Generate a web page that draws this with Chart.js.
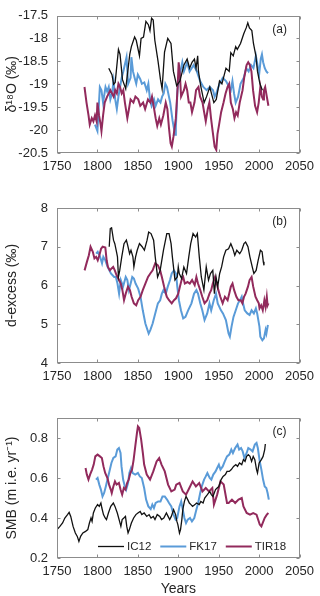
<!DOCTYPE html>
<html>
<head>
<meta charset="utf-8">
<script src="https://cdn.jsdelivr.net/npm/chart.js@4.4.0/dist/chart.umd.min.js"></script>
<style>
  html, body { margin: 0; padding: 0; background: #fff; }
  #wrap { position: relative; width: 320px; height: 596px; }
  canvas { position: absolute; left: 0; }
</style>
</head>
<body>
<div id="wrap">
  <canvas id="pa" width="320" height="185" style="top:0px"></canvas>
  <canvas id="pb" width="320" height="205" style="top:190px"></canvas>
  <canvas id="pc" width="320" height="196" style="top:400px"></canvas>
</div>
<script>
// --- series names / colours ---
const seriesNames = ['IC12', 'FK17', 'TIR18'];
const seriesColors = ['#111111', '#5a9bd8', '#922a5c'];

const xTicks = [1750, 1800, 1850, 1900, 1950, 2000, 2050];

// --- panel (a): d18O ---
const aIC12Years = [1814,1818,1820,1822,1826,1828,1831,1835,1840,1842,1846,1848,1852,1854,1857,1860,1863,1865,1867,1869,1871,1875,1878,1880,1883,1887,1891,1894,1898,1902,1907,1911,1914,1917,1920,1922,1924,1925,1928,1932,1935,1939,1941,1944,1947,1951,1954,1959,1963,1965,1968,1971,1973,1977,1981,1984,1986,1988,1991,1993,1996,1998,2001,2004];
const aIC12 = [-18.65,-18.79,-19.0,-18.96,-18.24,-18.35,-18.9,-19.1,-18.35,-18.18,-17.97,-18.04,-18.38,-18.0,-17.97,-17.63,-17.7,-17.83,-17.56,-17.6,-18.04,-18.5,-18.9,-19.1,-18.3,-18.0,-18.11,-18.72,-19.03,-18.93,-18.58,-18.45,-18.65,-18.52,-18.45,-18.65,-18.38,-18.72,-19.06,-19.4,-19.27,-19.06,-19.2,-19.4,-19.33,-18.93,-18.99,-18.65,-18.72,-18.31,-18.38,-18.18,-18.24,-18.11,-17.9,-17.77,-17.66,-17.77,-17.83,-18.11,-18.38,-18.72,-18.99,-19.13];

const aFK17Years = [1797,1800,1803,1805,1807,1810,1812,1814,1816,1818,1820,1822,1824,1826,1828,1830,1832,1836,1838,1841,1842,1844,1846,1848,1850,1853,1855,1858,1861,1863,1865,1867,1870,1872,1875,1878,1880,1882,1884,1886,1890,1893,1896,1897,1899,1901,1905,1907,1911,1914,1919,1923,1927,1931,1935,1939,1943,1945,1947,1951,1955,1959,1963,1965,1967,1969,1971,1974,1977,1981,1984,1987,1990,1993,1996,1998,2000,2002,2003.5,2005,2007,2009,2011];
const aFK17 = [-19.88,-20.02,-19.06,-19.13,-19.4,-19.06,-19.16,-19.06,-19.33,-19.2,-18.93,-19.33,-19.54,-19.27,-19.06,-18.86,-18.72,-18.41,-18.99,-18.86,-18.41,-18.72,-18.86,-18.99,-18.79,-18.89,-18.99,-18.96,-19.13,-18.99,-19.33,-19.47,-19.33,-19.47,-19.33,-19.4,-19.27,-19.2,-18.99,-19.06,-19.4,-19.8,-20.1,-19.95,-19.13,-18.86,-18.52,-18.72,-18.52,-18.72,-18.58,-18.72,-18.93,-19.06,-19.13,-19.06,-19.13,-19.27,-19.2,-18.99,-18.86,-18.93,-19.06,-19.13,-18.93,-19.2,-19.4,-19.27,-18.99,-18.86,-18.65,-18.72,-18.58,-18.65,-18.38,-18.58,-18.79,-18.45,-18.35,-18.52,-18.65,-18.72,-18.76];

const aTIR18Years = [1784,1786.5,1789,1790.5,1793,1795,1797,1799,1800,1802,1804,1805,1807,1809,1812,1816,1818,1820,1822,1824,1826,1828,1830,1832,1834,1837,1839,1841,1844.5,1847,1850.5,1853,1856.5,1859,1862.5,1865.5,1867.5,1869.5,1872,1874,1876.5,1878.5,1881.5,1884.5,1886.5,1888.5,1890.5,1892,1894,1895.5,1897,1899,1900.5,1902,1903.5,1907,1909,1911,1913,1915,1917,1920,1922,1925,1927,1930,1932,1934,1936.5,1938.5,1940.5,1942.5,1945,1947,1948.5,1950.5,1953,1956,1958.5,1961,1963,1965,1967.5,1969.5,1971.5,1973.5,1976,1979.5,1981.5,1984.5,1986.5,1988.5,1990.5,1992.5,1995,1997.5,1999.5,2001.5,2003.5,2005,2006,2007.5,2009.5,2011.5];
const aTIR18 = [-19.06,-19.4,-19.68,-19.88,-19.74,-19.81,-19.68,-19.81,-19.4,-19.68,-19.88,-20.02,-19.68,-19.4,-19.27,-19.13,-19.2,-19.27,-19.13,-19.2,-18.99,-19.06,-19.2,-19.13,-19.4,-19.74,-19.54,-19.33,-19.4,-19.27,-19.33,-19.47,-19.4,-19.54,-19.33,-19.4,-19.27,-19.47,-19.74,-19.91,-19.74,-19.88,-19.68,-19.4,-19.54,-19.95,-20.29,-20.36,-20.15,-19.95,-19.74,-19.13,-18.52,-18.79,-19.27,-19.13,-18.99,-19.13,-19.4,-19.4,-19.61,-19.4,-19.13,-19.06,-19.27,-19.4,-19.61,-19.81,-19.54,-19.4,-19.74,-20.02,-20.36,-20.43,-20.09,-19.88,-19.61,-19.4,-19.2,-19.06,-18.99,-19.4,-19.54,-19.74,-19.61,-19.68,-19.4,-19.13,-18.86,-18.58,-18.52,-18.58,-18.72,-19.13,-19.47,-19.61,-19.4,-19.06,-19.27,-19.33,-19.13,-19.06,-19.27,-19.47];

// --- panel (b): d-excess ---
const bIC12Years = [1814.6,1815.9,1817.5,1819.9,1821.5,1823.6,1824.8,1826,1827.6,1830.1,1832.9,1835.8,1837.4,1839.8,1841.5,1843.9,1845.1,1847.2,1849.2,1852,1855.3,1858.1,1861.4,1863.4,1866.3,1869.5,1871.5,1874.4,1877.6,1881.7,1885.8,1888.6,1891.1,1892.7,1895.9,1898.8,1900,1901.2,1904.1,1906.9,1910.2,1913,1915.4,1918.3,1921.5,1923.6,1926,1928.5,1931.7,1934.6,1937.4,1939.8,1942.7,1944.7,1946.7,1948.8,1951.2,1953.6,1956.1,1958.9,1962.2,1965,1967.5,1969.9,1972.4,1976,1978.5,1981.3,1983.3,1986.2,1988.6,1991.5,1993.5,1996.3,1998.8,2001.6,2003.7,2005.2,2006];
const bIC12 = [7.0,7.47,7.49,7.17,7.08,6.87,6.74,6.22,6.39,6.74,7.08,7.17,7.04,6.82,6.91,6.74,6.48,6.74,6.91,7.08,7.0,6.91,7.17,7.38,7.34,7.17,6.74,6.22,6.39,6.91,7.34,7.34,7.08,6.74,6.14,6.22,6.48,6.31,6.18,6.48,6.31,6.74,7.08,7.34,7.25,7.34,6.74,6.22,5.88,6.48,6.14,6.31,6.39,5.79,6.22,5.97,6.31,6.48,6.74,6.91,6.95,7.08,6.95,6.78,6.91,6.82,6.91,7.08,7.12,7.0,6.74,6.48,6.31,6.39,6.65,6.91,6.87,6.61,6.52];

const bFK17Years = [1798.4,1800.4,1803.3,1805.7,1807.3,1809.8,1812.6,1816.7,1820.7,1822.8,1824.8,1826.8,1828.9,1831.7,1835,1837,1839,1841.1,1843.1,1845.1,1847.2,1850.4,1853.3,1856.1,1859.3,1863.4,1865.4,1868.3,1871.5,1874.8,1877.6,1879.7,1881.7,1884.6,1887,1889.8,1891.9,1894.7,1897.2,1898.8,1900.8,1903.3,1906.1,1908.9,1912.2,1916.3,1919.5,1922.4,1924.4,1927.2,1929.7,1932.5,1935.8,1938.6,1940.7,1943.9,1946.7,1948.8,1950.8,1952.8,1955.3,1958.9,1962.2,1963.8,1965.9,1968.3,1971.1,1973.9,1976.4,1978.5,1980.1,1982.2,1985.4,1988.2,1990.7,1993.5,1996,1997.6,2000.4,2001.5,2004,2006,2008,2009,2010.5,2011];
const bFK17 = [6.82,6.87,6.74,6.57,6.74,6.65,6.48,6.31,6.22,6.22,6.05,5.79,6.14,5.97,6.22,6.14,5.88,6.05,6.22,6.18,6.05,5.92,5.71,5.36,5.02,4.76,4.85,5.02,5.28,5.54,5.62,5.79,5.88,5.79,5.97,6.14,6.31,6.39,6.31,5.97,5.62,5.36,5.15,5.19,5.36,5.54,5.79,5.88,5.79,5.54,5.36,5.11,5.28,5.54,5.36,5.62,5.79,5.54,5.45,5.36,5.28,5.11,4.76,4.68,4.94,5.19,5.36,5.54,5.62,5.71,5.54,5.36,5.28,5.24,5.36,5.28,5.41,5.28,4.94,4.68,4.59,4.64,4.85,4.76,4.94,4.98];

const bTIR18Years = [1784.1,1787,1789.4,1791.5,1794.3,1796.3,1798.4,1800.4,1802.4,1804.5,1806.5,1809.8,1811.4,1813,1815.4,1817.5,1819.5,1821.5,1823.6,1826.8,1828.9,1830.9,1832.9,1835,1837.8,1840.2,1842.3,1845.1,1848,1850.4,1853.3,1856.1,1859.3,1862.6,1865.4,1868.3,1871.5,1874.8,1877.6,1879.7,1882.5,1885.8,1888.6,1891.9,1894.7,1897.2,1900,1902,1904.1,1906.1,1908.1,1911.4,1914.2,1917.1,1920.3,1922.4,1924.4,1927.2,1929.7,1932.5,1935.8,1938.6,1940.7,1942.7,1945.5,1947.6,1949.6,1952,1954.9,1957.7,1961,1963,1965,1967.1,1969.1,1971.9,1974.4,1977.2,1979.3,1981.3,1983.3,1986.2,1988.2,1990.7,1992.7,1995.5,1997.6,1999.6,2000.5,2002.5,2004.5,2006.5,2008,2009.5,2010.5,2011.5];
const bTIR18 = [6.39,6.61,6.78,7.0,6.87,6.70,6.74,6.65,6.78,6.95,7.0,6.98,6.65,6.48,6.39,6.44,6.48,6.39,6.27,6.14,6.05,5.88,5.62,5.79,5.97,5.88,5.71,5.54,5.49,5.62,5.71,5.88,6.05,6.22,6.31,6.39,6.57,6.52,6.39,6.22,5.97,5.71,5.62,5.54,5.62,5.67,5.79,5.97,6.14,6.22,6.05,6.09,6.05,6.14,6.01,6.22,6.05,5.88,5.71,5.54,5.62,5.79,5.88,6.05,6.22,6.05,5.88,5.71,5.54,5.71,5.62,5.79,5.97,6.05,5.88,5.71,5.62,5.62,5.54,5.71,5.79,5.97,6.14,6.22,5.97,5.71,5.62,5.54,5.41,5.49,5.36,5.62,5.45,5.71,5.49,5.54];

// --- panel (c): SMB ---
const cIC12Years = [1750,1753.6,1756.9,1759.7,1763,1765,1767,1769.9,1772.7,1775.1,1777.1,1779.2,1782,1785.3,1788.1,1790.1,1792.1,1793.4,1795,1797.4,1800.2,1802.3,1804.3,1805.5,1807.5,1809.6,1811.2,1813.6,1816.5,1819.7,1821.7,1824.6,1827.4,1829,1830.6,1832.7,1834.7,1836.3,1837.9,1839.5,1842,1844.8,1847.6,1850.1,1852.9,1854.9,1857.8,1861,1863.9,1866.3,1869.1,1871.2,1874,1877.2,1879.3,1882.1,1885.3,1887.4,1889.4,1891.4,1894.2,1896.7,1898.3,1899.5,1901.5,1902.8,1904.4,1905.6,1907.6,1909.6,1911.7,1913.7,1915.7,1917.7,1920.6,1922.6,1925.9,1927.9,1930.7,1932.7,1936,1938.9,1940.9,1942.9,1946.1,1948.1,1950.2,1953,1955.4,1958.3,1960.3,1963.1,1965.6,1968.4,1971.2,1973.3,1975.7,1978.5,1980.6,1982.6,1984.6,1986.6,1988.7,1990.7,1992.7,1994.7,1996.8,1998,2000,2002.8,2004.9,2006.9,2007.7];
const cIC12 = [0.342,0.358,0.375,0.40,0.417,0.428,0.408,0.358,0.325,0.308,0.283,0.308,0.325,0.333,0.342,0.375,0.40,0.383,0.425,0.45,0.467,0.458,0.475,0.45,0.417,0.40,0.392,0.425,0.458,0.475,0.458,0.425,0.383,0.358,0.392,0.40,0.408,0.358,0.325,0.342,0.375,0.40,0.417,0.425,0.433,0.417,0.425,0.408,0.417,0.40,0.408,0.392,0.417,0.408,0.392,0.40,0.425,0.408,0.392,0.408,0.442,0.417,0.383,0.367,0.325,0.342,0.392,0.442,0.483,0.508,0.492,0.475,0.467,0.458,0.467,0.475,0.467,0.483,0.475,0.50,0.517,0.533,0.517,0.508,0.542,0.55,0.558,0.592,0.608,0.617,0.633,0.633,0.642,0.658,0.667,0.658,0.675,0.667,0.692,0.683,0.708,0.717,0.708,0.683,0.708,0.692,0.642,0.625,0.675,0.692,0.708,0.742,0.77];

const cFK17Years = [1798.2,1800.2,1802.3,1804.3,1806.3,1808.3,1810.4,1812.4,1814.4,1817.3,1819.7,1822.5,1824.6,1826.6,1828.6,1829.8,1831.8,1833.9,1835.5,1837.9,1839.5,1841.6,1843.6,1846.8,1850.1,1852.5,1854.9,1857.8,1860.2,1863,1865.9,1867.9,1869.9,1872,1875.2,1878,1880.5,1883.3,1886.1,1888.6,1891.4,1894.2,1896.7,1898.7,1901.5,1903.6,1905.6,1907.6,1909.6,1911.7,1914.5,1916.9,1919.8,1921.8,1924.6,1927.1,1929.1,1931.9,1934,1936,1938.9,1940.9,1943.3,1946.1,1948.1,1950.2,1952.2,1955,1957.5,1960.3,1963.1,1965.6,1967.6,1970.4,1973.3,1975.3,1977.7,1979.7,1981.8,1984.6,1986.6,1989.5,1991.9,1994.7,1996.8,1998.4,2000.8,2002.8,2004.9,2006.9,2008.9,2010.5,2012];
const cFK17 = [0.592,0.60,0.567,0.542,0.508,0.525,0.558,0.592,0.625,0.675,0.70,0.708,0.742,0.75,0.725,0.658,0.592,0.558,0.542,0.575,0.625,0.65,0.625,0.617,0.625,0.608,0.60,0.55,0.492,0.458,0.445,0.467,0.45,0.475,0.483,0.483,0.508,0.508,0.492,0.475,0.458,0.417,0.392,0.40,0.458,0.483,0.442,0.40,0.375,0.392,0.40,0.383,0.40,0.433,0.475,0.525,0.558,0.592,0.608,0.625,0.60,0.592,0.617,0.633,0.65,0.667,0.642,0.658,0.683,0.708,0.717,0.742,0.725,0.75,0.767,0.742,0.75,0.733,0.70,0.725,0.75,0.742,0.733,0.767,0.775,0.75,0.683,0.642,0.592,0.558,0.55,0.525,0.492];

const cTIR18Years = [1785.3,1786.9,1788.9,1790.9,1793.4,1795.4,1797.4,1800.2,1803.1,1805.5,1807.5,1809.6,1812.4,1814.4,1816.5,1817.7,1819.7,1821.7,1823.7,1826.6,1828.6,1830.6,1832.7,1834.7,1836.7,1838.7,1840.8,1842.8,1844.8,1846.8,1848.9,1850.1,1851.7,1854.1,1856.2,1857.8,1861,1865.1,1869.1,1873.2,1876.4,1879.3,1883.3,1887.4,1891.4,1895.5,1897.5,1901.5,1905.6,1909.6,1913.7,1917.7,1921.8,1925.9,1929.9,1934,1938,1942.1,1944.1,1948.1,1952.2,1956.2,1960.3,1962.3,1966.4,1970.4,1974.5,1978.5,1980.6,1984.6,1988.7,1992.7,1996.8,2000.8,2002.8,2006.9,2009.5,2011.5];
const cTIR18 = [0.65,0.617,0.592,0.617,0.642,0.667,0.708,0.717,0.708,0.70,0.658,0.625,0.60,0.567,0.542,0.525,0.558,0.583,0.567,0.575,0.542,0.517,0.55,0.542,0.575,0.592,0.625,0.642,0.692,0.758,0.825,0.858,0.85,0.792,0.725,0.667,0.617,0.592,0.633,0.683,0.70,0.667,0.633,0.567,0.533,0.542,0.567,0.575,0.533,0.517,0.55,0.583,0.558,0.575,0.533,0.55,0.533,0.55,0.467,0.517,0.583,0.567,0.475,0.475,0.492,0.475,0.492,0.50,0.458,0.425,0.417,0.425,0.417,0.367,0.358,0.40,0.417,0.425];

const FONT = '"Liberation Sans", Arial, Helvetica, sans-serif';
Chart.defaults.font.family = FONT;
Chart.defaults.font.size = 13;
Chart.defaults.color = '#262626';

function pts(xs, ys) {
  return xs.map((x, i) => ({ x: x, y: ys[i] }));
}

// box round the axes with inward ticks on all four sides, plus the panel letter
const boxPlugin = {
  id: 'box',
  afterDatasetsDraw(chart, args, opts) {
    const { ctx, chartArea: a, scales } = chart;
    ctx.save();
    ctx.strokeStyle = '#8c8c8c';
    ctx.lineWidth = 1;
    const l = Math.round(a.left) + 0.5, r = Math.round(a.right) - 0.5;
    const t = Math.round(a.top) + 0.5, b = Math.round(a.bottom) - 0.5;
    ctx.strokeRect(l, t, r - l, b - t);
    ctx.beginPath();
    scales.x.ticks.forEach(tk => {
      const px = Math.round(scales.x.getPixelForValue(tk.value)) + 0.5;
      ctx.moveTo(px, b); ctx.lineTo(px, b - 3);
      ctx.moveTo(px, t); ctx.lineTo(px, t + 3);
    });
    scales.y.ticks.forEach(tk => {
      const py = Math.round(scales.y.getPixelForValue(tk.value)) + 0.5;
      ctx.moveTo(l, py); ctx.lineTo(l + 3, py);
      ctx.moveTo(r, py); ctx.lineTo(r - 3, py);
    });
    ctx.stroke();
    if (opts.label) {
      ctx.fillStyle = '#262626';
      ctx.font = '12px ' + FONT;
      ctx.textAlign = 'center';
      ctx.textBaseline = 'middle';
      ctx.fillText(opts.label, a.right - 20, a.top + 14);
    }
    ctx.restore();
  }
};

// line legend drawn inside the bottom of the axes (panel c)
const lineLegend = {
  id: 'lineLegend',
  afterDraw(chart, args, opts) {
    if (!opts.show) return;
    const { ctx, chartArea: a } = chart;
    const y = a.bottom - 11.5;
    let x = opts.x;
    ctx.save();
    ctx.font = '11.5px ' + FONT;
    ctx.textBaseline = 'middle';
    ctx.textAlign = 'left';
    chart.data.datasets.forEach(ds => {
      ctx.strokeStyle = ds.borderColor;
      ctx.lineWidth = ds.borderWidth;
      ctx.beginPath();
      ctx.moveTo(x, y);
      ctx.lineTo(x + 26, y);
      ctx.stroke();
      x += 29;
      ctx.fillStyle = '#262626';
      ctx.fillText(ds.label, x, y);
      x += ctx.measureText(ds.label).width + 9;
    });
    ctx.restore();
  }
};

function makeDatasets(xsList, ysList) {
  const widths = [1.3, 2, 2];
  const orders = [0, 2, 1];
  return seriesNames.map((name, i) => ({
    label: name,
    data: pts(xsList[i], ysList[i]),
    borderColor: seriesColors[i],
    borderWidth: widths[i],
    pointRadius: 0,
    fill: false,
    tension: 0,
    order: orders[i]
  }));
}

function makePanel(id, cfg) {
  return new Chart(document.getElementById(id), {
    type: 'line',
    data: { datasets: makeDatasets(cfg.xs, cfg.ys) },
    plugins: [boxPlugin, lineLegend],
    options: {
      responsive: false,
      animation: false,
      layout: { padding: { top: cfg.top, right: 16, left: 0, bottom: 0 } },
      plugins: {
        legend: { display: false },
        tooltip: { enabled: false },
        box: { label: cfg.label },
        lineLegend: { show: !!cfg.legend, x: 98 }
      },
      scales: {
        x: {
          type: 'linear',
          min: 1750,
          max: 2050,
          afterBuildTicks: s => { s.ticks = xTicks.map(v => ({ value: v })); },
          afterFit: s => { s.height = cfg.xHeight; },
          grid: { display: false, drawTicks: false },
          border: { display: false },
          ticks: { padding: 6, autoSkip: false, maxRotation: 0, font: { size: 13 },
                   callback: v => String(v) },
          title: cfg.xTitle ? { display: true, text: cfg.xTitle, font: { size: 14, lineHeight: 1 }, padding: { top: 0, bottom: 0 } } : { display: false }
        },
        y: {
          min: cfg.yMin,
          max: cfg.yMax,
          afterFit: s => { s.width = 57; },
          grid: { display: false, drawTicks: false },
          border: { display: false },
          ticks: { stepSize: cfg.yStep, includeBounds: false, padding: 9, font: { size: 13, lineHeight: 1 },
                   callback: v => String(Math.round(v * 10) / 10) },
          title: { display: true, text: cfg.yTitle, font: { size: 14 }, padding: { top: 4, bottom: 0 } }
        }
      }
    }
  });
}

makePanel('pa', {
  xs: [aIC12Years, aFK17Years, aTIR18Years],
  ys: [aIC12, aFK17, aTIR18],
  top: 7, xHeight: 32,
  yMin: -20.5, yMax: -17.5, yStep: 0.5,
  yTitle: 'δ¹⁸O (‰)', label: '(a)'
});

makePanel('pb', {
  xs: [bIC12Years, bFK17Years, bTIR18Years],
  ys: [bIC12, bFK17, bTIR18],
  top: 18, xHeight: 32,
  yMin: 4, yMax: 8, yStep: 1,
  yTitle: 'd-excess (‰)', label: '(b)'
});

makePanel('pc', {
  xs: [cIC12Years, cFK17Years, cTIR18Years],
  ys: [cIC12, cFK17, cTIR18],
  top: 18, xHeight: 38,
  yMin: 0.2, yMax: 0.9, yStep: 0.2,
  yTitle: 'SMB (m i.e. yr⁻¹)', label: '(c)',
  xTitle: 'Years', legend: true
});
</script>
</body>
</html>
